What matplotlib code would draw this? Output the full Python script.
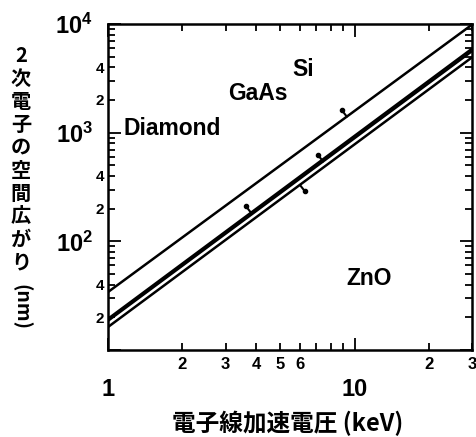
import numpy as np
import matplotlib.pyplot as plt
from matplotlib.ticker import FixedLocator

plt.rcParams['font.family'] = ['Liberation Sans', 'Noto Sans CJK JP', 'DejaVu Sans']
plt.rcParams['font.weight'] = 'bold'
plt.rcParams['mathtext.fontset'] = 'custom'
plt.rcParams['mathtext.bf'] = 'Liberation Sans:bold'
plt.rcParams['mathtext.rm'] = 'Liberation Sans:bold'

# beam energy range (keV) and spread at both ends (nm)
energy = [1, 30]
spread_si = [34.2, 9900]
spread_diamond = [19.4, 5950]
spread_gaas = [18.6, 5650]
spread_zno = [16.3, 4950]

# label positions (keV, nm)
label_names = ['Diamond', 'GaAs', 'Si', 'ZnO']
label_x = [1.16, 4.05, 6.16, 11.5]
label_y = [1104, 2318, 3776, 46]

# where each label's pointer sits on its line (keV)
pointer_e = [3.8, 7.45, 9.3, 6.0]

x_major = [1, 10]
x_minor = [2, 3, 4, 5, 6, 7, 8, 9, 20, 30]
x_minor_labels = ['2', '3', '4', '5', '6', '', '', '', '2', '3']
y_major = [10, 100, 1000, 10000]
y_major_labels = ['', r'$\mathbf{10^2}$', r'$\mathbf{10^3}$', r'$\mathbf{10^4}$']
y_minor = [m * d for d in [10, 100, 1000] for m in range(2, 10)]
y_minor_labels = [str(m) if m in (2, 4) else '' for d in [10, 100, 1000] for m in range(2, 10)]

fig = plt.figure(figsize=(4.76, 4.37), dpi=100)
ax = fig.add_axes([0.227, 0.199, 0.765, 0.746])
ax.set_xscale('log')
ax.set_yscale('log')
ax.set_xlim(1, 30)
ax.set_ylim(10, 10000)

series = [spread_diamond, spread_gaas, spread_si, spread_zno]
for s in series:
    ax.plot(energy, s, color='black', lw=1.8, solid_capstyle='butt')

# small teardrop pointers from each line towards its label
offsets = [(-3.5, 4.5), (-3.5, 4.5), (-3.5, 4.5), (3.5, -4.5)]
for e, s, off in zip(pointer_e, series, offsets):
    slope = np.log10(s[1] / s[0]) / np.log10(energy[1] / energy[0])
    v = s[0] * (e / energy[0]) ** slope
    ax.annotate('', xy=(e, v), xytext=off, textcoords='offset points',
                arrowprops=dict(arrowstyle='-', lw=1.5, color='black',
                                shrinkA=0, shrinkB=0))
    tip = ax.transData.inverted().transform(
        ax.transData.transform((e, v)) + np.array(off) * fig.dpi / 72)
    ax.plot(tip[0], tip[1], 'o', color='black', ms=3)

for name, lx, ly in zip(label_names, label_x, label_y):
    ha = 'left' if name == 'Diamond' else 'center'
    ax.text(lx, ly, name, ha=ha, va='center', fontsize=16.5, fontweight='bold')

ax.xaxis.set_major_locator(FixedLocator(x_major))
ax.xaxis.set_minor_locator(FixedLocator(x_minor))
ax.set_xticklabels(['1', '10'], fontsize=17, fontweight='bold')
ax.set_xticklabels(x_minor_labels, minor=True, fontsize=12, fontweight='bold')
ax.yaxis.set_major_locator(FixedLocator(y_major))
ax.yaxis.set_minor_locator(FixedLocator(y_minor))
ax.set_yticklabels(y_major_labels, fontsize=17)
ax.set_yticklabels(y_minor_labels, minor=True, fontsize=11, fontweight='bold')

ax.tick_params(which='both', direction='in', top=True, right=True, width=1.3, color='black')
ax.tick_params(which='major', length=9)
ax.tick_params(which='minor', length=5)
ax.tick_params(axis='x', which='major', pad=20)
ax.tick_params(axis='x', which='minor', pad=5)
ax.tick_params(axis='y', which='major', pad=11)
ax.tick_params(axis='y', which='minor', pad=3)
for sp in ax.spines.values():
    sp.set_linewidth(1.8)

fig.text(0.605, 0.03, '電子線加速電圧 (keV)', ha='center', va='center',
         fontsize=17, fontweight='bold', family=['Noto Sans CJK JP'])

# vertical y label, characters stacked
ylabel_chars = ['2', '次', '電', '子', 'の', '空', '間', '広', 'が', 'り']
for i, ch in enumerate(ylabel_chars):
    fig.text(0.044, 1 - (55 + i * 23) / 437, ch, ha='center', va='center',
             fontsize=14.5, fontweight='bold', family=['Noto Sans CJK JP'])
fig.text(0.044, 1 - 307 / 437, '(nm)', ha='center', va='center', rotation=-90,
         fontsize=14, fontweight='bold', family=['Noto Sans CJK JP'])

fig.savefig('out.png', dpi=100)
